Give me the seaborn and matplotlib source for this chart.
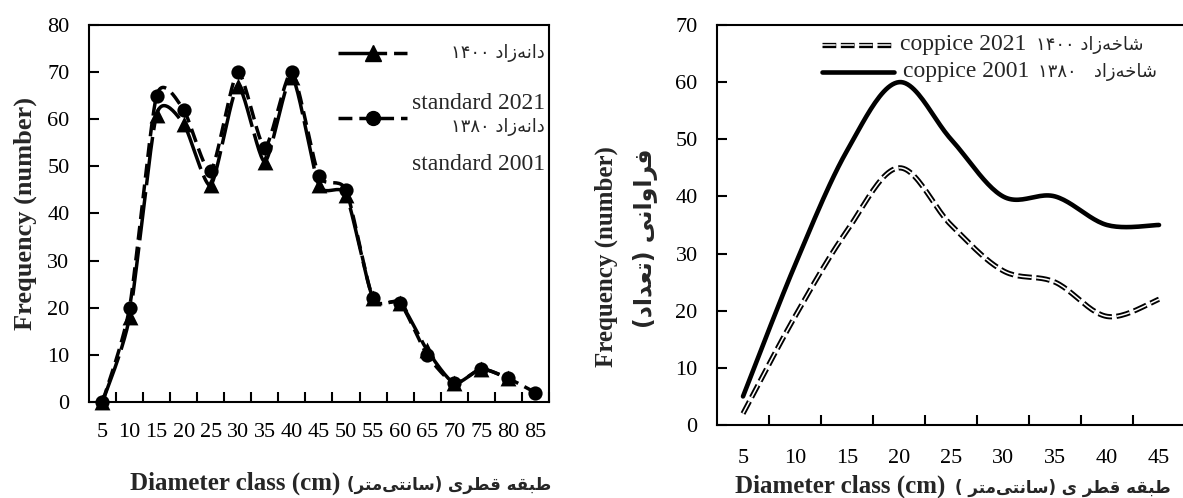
import re
import numpy as np
import matplotlib
matplotlib.use('Agg')
import matplotlib.pyplot as plt
import matplotlib.patheffects as pe
from matplotlib.lines import Line2D
import seaborn as sns

# left panel: standard (seed-origin) trees
std_classes = [5, 10, 15, 20, 25, 30, 35, 40, 45, 50, 55, 60, 65, 70, 75, 80, 85]
std_2021 = [0, 18, 61, 59, 46, 67, 51, 69, 46, 44, 22, 21, 11, 4, 7, 5, np.nan]
std_2001 = [0, 20, 65, 62, 49, 70, 54, 70, 48, 45, 22, 21, 10, 4, 7, 5, 2]

# right panel: coppice trees
cop_classes = [5, 10, 15, 20, 25, 30, 35, 40, 45]
cop_2021 = [2, 19, 34, 45, 35, 27, 25, 19, 22]
cop_2001 = [5, 28, 48, 60, 50, 40, 40, 35, 35]

# Persian texts (logical order)
fa_std_2021 = 'دانه\u200cزاد ۱۴۰۰'
fa_std_2001 = 'دانه\u200cزاد ۱۳۸۰'
fa_cop_2021 = 'شاخه\u200cزاد ۱۴۰۰'
fa_cop_2001 = 'شاخه\u200cزاد   ۱۳۸۰'
fa_xlabel = 'طبقه قطری (سانتی\u200cمتر)'
fa_xlabel2 = 'طبقه قطر ی (سانتی\u200cمتر )'
fa_ylabel = 'فراوانی (تعداد)'

# isolated, final, initial, medial presentation forms
FORMS = {
    'ا': ('\ufe8d', '\ufe8e', None, None),
    'ب': ('\ufe8f', '\ufe90', '\ufe91', '\ufe92'),
    'ت': ('\ufe95', '\ufe96', '\ufe97', '\ufe98'),
    'خ': ('\ufea5', '\ufea6', '\ufea7', '\ufea8'),
    'د': ('\ufea9', '\ufeaa', None, None),
    'ر': ('\ufead', '\ufeae', None, None),
    'ز': ('\ufeaf', '\ufeb0', None, None),
    'س': ('\ufeb1', '\ufeb2', '\ufeb3', '\ufeb4'),
    'ش': ('\ufeb5', '\ufeb6', '\ufeb7', '\ufeb8'),
    'ط': ('\ufec1', '\ufec2', '\ufec3', '\ufec4'),
    'ع': ('\ufec9', '\ufeca', '\ufecb', '\ufecc'),
    'ف': ('\ufed1', '\ufed2', '\ufed3', '\ufed4'),
    'ق': ('\ufed5', '\ufed6', '\ufed7', '\ufed8'),
    'م': ('\ufee1', '\ufee2', '\ufee3', '\ufee4'),
    'ن': ('\ufee5', '\ufee6', '\ufee7', '\ufee8'),
    'ه': ('\ufee9', '\ufeea', '\ufeeb', '\ufeec'),
    'و': ('\ufeed', '\ufeee', None, None),
    '\u06cc': ('\ufbfc', '\ufbfd', '\ufbfe', '\ufbff'),
    '\u064a': ('\ufbfc', '\ufbfd', '\ufbfe', '\ufbff'),
}


def fa(text):
    """Join Persian letters and put them in left-to-right drawing order."""
    out = []
    for i, ch in enumerate(text):
        if ch not in FORMS:
            out.append(ch)
            continue
        prev = text[i - 1] if i > 0 else ''
        nxt = text[i + 1] if i + 1 < len(text) else ''
        join_prev = prev in FORMS and FORMS[prev][2] is not None
        join_next = FORMS[ch][2] is not None and nxt in FORMS
        iso, fin, ini, med = FORMS[ch]
        if join_prev and join_next:
            out.append(med)
        elif join_prev:
            out.append(fin)
        elif join_next:
            out.append(ini)
        else:
            out.append(iso)
    shaped = ''.join(out).replace('\u200c', '')
    runs = re.findall(r'[0-9\u06f0-\u06f9]+|.', shaped)
    return ''.join(reversed(runs)).translate(str.maketrans('()', ')('))


def smooth_line(y, tension=1 / 6, steps=25):
    """Excel-like smoothed line through the points (cubic Bezier)."""
    y = np.asarray(y, float)
    x = np.arange(len(y), dtype=float)
    keep = ~np.isnan(y)
    x, y = x[keep], y[keep]
    px = np.r_[x[0], x, x[-1]]
    py = np.r_[y[0], y, y[-1]]
    t = np.linspace(0, 1, steps)
    xs, ys = [], []
    for i in range(len(x) - 1):
        for p, res in ((px, xs), (py, ys)):
            p0, p1, p2, p3 = p[i], p[i + 1], p[i + 2], p[i + 3]
            c1 = p1 + (p2 - p0) * tension
            c2 = p2 - (p3 - p1) * tension
            res.append((1 - t) ** 3 * p1 + 3 * (1 - t) ** 2 * t * c1
                       + 3 * (1 - t) * t ** 2 * c2 + t ** 3 * p2)
    return np.concatenate(xs), np.concatenate(ys)


sns.set_theme(style='white')
plt.rcParams['font.family'] = ['Liberation Serif', 'DejaVu Sans']
plt.rcParams['axes.edgecolor'] = 'black'
plt.rcParams['axes.linewidth'] = 1.5

fig = plt.figure(figsize=(11.83, 4.98), dpi=100)
ax1 = fig.add_axes([0.0752, 0.1928, 0.3888, 0.757])
ax2 = fig.add_axes([0.6061, 0.1466, 0.3956, 0.8032])


def style_axes(ax, classes, ymax, xpad, ypad):
    n = len(classes)
    ax.set_xlim(-0.5, n - 0.5)
    ax.set_ylim(0, ymax)
    ax.set_xticks(range(n))
    ax.set_xticklabels([str(c) for c in classes])
    ax.set_xticks(np.arange(n) + 0.5, minor=True)
    ax.set_yticks(range(0, ymax + 1, 10))
    ax.tick_params(axis='x', which='major', length=0, pad=xpad, labelsize=16, colors='black')
    ax.tick_params(axis='x', which='minor', bottom=True, direction='in', length=7, width=1.5, color='black')
    ax.tick_params(axis='y', left=True, direction='in', length=7, width=1.5, pad=ypad,
                   labelsize=16, colors='black')
    for s in ax.spines.values():
        s.set_color('black')
        s.set_linewidth(1.5)


# ---- left panel ----
sx, sy = smooth_line(std_2021, tension=1 / 9)
sns.lineplot(x=sx, y=sy, ax=ax1, sort=False, estimator=None, color='black', lw=2.5,
             linestyle=(0, (14, 2)))
sx, sy = smooth_line(std_2001, tension=1 / 9)
sns.lineplot(x=sx, y=sy, ax=ax1, sort=False, estimator=None, color='black', lw=2.5,
             linestyle=(0, (4, 2)))
idx = np.arange(len(std_classes))
sns.scatterplot(x=idx, y=std_2021, ax=ax1, marker='^', s=130, color='black', linewidth=0,
                zorder=3, clip_on=False)
sns.scatterplot(x=idx, y=std_2001, ax=ax1, marker='o', s=105, color='black', linewidth=0,
                zorder=3, clip_on=False)
style_axes(ax1, std_classes, 80, 15, 14)

h_a = Line2D([], [], color='black', lw=2.5, linestyle=(0, (14, 2)), marker='^', markersize=11)
h_b = Line2D([], [], color='black', lw=2.5, linestyle=(0, (4, 2)), marker='o', markersize=10)
ax1.legend(handles=[h_a, h_b], labels=['', ''], loc='upper left', bbox_to_anchor=(0.541, 0.939),
           frameon=False, borderpad=0, borderaxespad=0, fontsize=10, handlelength=5.0,
           labelspacing=3.7, handletextpad=0)
ax1.text(0.991, 0.926, fa(fa_std_2021), transform=ax1.transAxes, ha='right', va='center',
         fontsize=13, family='DejaVu Sans')
ax1.text(0.991, 0.793, 'standard 2021', transform=ax1.transAxes, ha='right', va='center',
         fontsize=17)
ax1.text(0.991, 0.729, fa(fa_std_2001), transform=ax1.transAxes, ha='right', va='center',
         fontsize=13, family='DejaVu Sans')
ax1.text(0.991, 0.629, 'standard 2001', transform=ax1.transAxes, ha='right', va='center',
         fontsize=17)

ax1.set_ylabel('Frequency (number)', fontsize=19, fontweight='bold')
ax1.yaxis.set_label_coords(-0.112, 0.5)
ax1.set_xlabel('Diameter class (cm)', fontsize=18, fontweight='bold', ha='right', va='baseline')
ax1.xaxis.set_label_coords(0.546, -0.233)
ax1.text(0.561, -0.233, fa(fa_xlabel), transform=ax1.transAxes, ha='left', va='baseline',
         fontsize=12, fontweight='bold', family='DejaVu Sans')

# ---- right panel ----
sx, sy = smooth_line(cop_2021)
sns.lineplot(x=sx, y=sy, ax=ax2, sort=False, estimator=None, color='white', lw=1.1,
             linestyle=(0, (9, 3)),
             path_effects=[pe.Stroke(linewidth=3.8, foreground='black'), pe.Normal()])
sx, sy = smooth_line(cop_2001)
sns.lineplot(x=sx, y=sy, ax=ax2, sort=False, estimator=None, color='black', lw=3.3)
style_axes(ax2, cop_classes, 70, 17, 14)

h_c = Line2D([], [], color='white', lw=1.1, linestyle=(0, (9, 3)),
             path_effects=[pe.Stroke(linewidth=3.8, foreground='black'), pe.Normal()])
h_d = Line2D([], [], color='black', lw=3.3)
ax2.legend(handles=[h_c, h_d], labels=['', ''], loc='upper left', bbox_to_anchor=(0.224, 0.962),
           frameon=False, borderpad=0, borderaxespad=0, fontsize=10, handlelength=5.2,
           labelspacing=1.0, handletextpad=0)
ax2.text(0.391, 0.95, 'coppice 2021', transform=ax2.transAxes, ha='left', va='center', fontsize=17)
ax2.text(0.912, 0.95, fa(fa_cop_2021), transform=ax2.transAxes, ha='right', va='center',
         fontsize=13, family='DejaVu Sans')
ax2.text(0.397, 0.8825, 'coppice 2001', transform=ax2.transAxes, ha='left', va='center', fontsize=17)
ax2.text(0.940, 0.8825, fa(fa_cop_2001), transform=ax2.transAxes, ha='right', va='center',
         fontsize=13, family='DejaVu Sans')

ax2.set_ylabel('Frequency (number)', fontsize=18, fontweight='bold')
ax2.yaxis.set_label_coords(-0.2115, 0.42)
ax2.text(-0.152, 0.4675, fa(fa_ylabel), transform=ax2.transAxes, rotation=90, ha='center',
         va='center', fontsize=17, fontweight='bold', family='DejaVu Sans')
ax2.set_xlabel('Diameter class (cm)', fontsize=18, fontweight='bold', ha='right', va='baseline')
ax2.xaxis.set_label_coords(0.487, -0.17)
ax2.text(0.508, -0.17, fa(fa_xlabel2), transform=ax2.transAxes, ha='left', va='baseline',
         fontsize=12, fontweight='bold', family='DejaVu Sans')

fig.savefig('out.png', dpi=100)
